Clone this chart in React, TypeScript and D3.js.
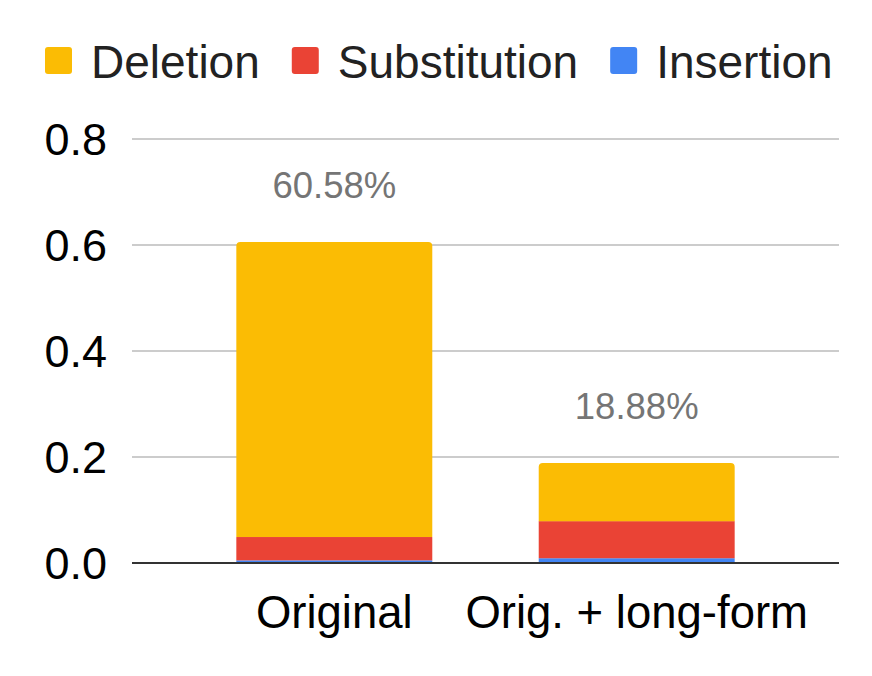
import { useEffect, useRef } from 'react';
import * as d3 from 'd3';

const categories = ["Original", "Orig. + long-form"];
const seriesNames = ["Deletion", "Substitution", "Insertion"];
const insertion = [0.005, 0.009];
const substitution = [0.044, 0.070];
const deletion = [0.5568, 0.1098];
const yTicks = [0, 0.2, 0.4, 0.6, 0.8];

const colors: Record<string, string> = {
  Deletion: "#fbbc04",
  Substitution: "#ea4335",
  Insertion: "#4285f4",
};

const App = () => {
  const ref = useRef<HTMLDivElement>(null);

  useEffect(() => {
    if (!ref.current) return;
    document.body.style.margin = "0";
    const width = 872, height = 676;
    const font = "'Liberation Sans', Arial, sans-serif";

    d3.select(ref.current).selectAll("svg").remove();
    const svg = d3.select(ref.current)
      .append("svg")
      .attr("width", width)
      .attr("height", height)
      .style("display", "block")
      .style("font-family", font);

    const rows = categories.map((c, i) => ({
      cat: c,
      Insertion: insertion[i],
      Substitution: substitution[i],
      Deletion: deletion[i],
    }));

    const x = d3.scaleBand<string>()
      .domain(categories)
      .range([132, 839])
      .paddingInner(0.352)
      .paddingOuter(0.345);

    const y = d3.scaleLinear().domain([0, 0.8]).range([563, 139]);

    // gridlines
    svg.append("g")
      .selectAll("line")
      .data(yTicks.filter(t => t > 0))
      .join("line")
      .attr("x1", 132).attr("x2", 839)
      .attr("y1", d => y(d)).attr("y2", d => y(d))
      .attr("stroke", "#cccccc")
      .attr("stroke-width", 2);

    // y tick labels
    svg.append("g")
      .selectAll("text")
      .data(yTicks)
      .join("text")
      .attr("x", 107)
      .attr("y", d => y(d))
      .attr("dy", "0.36em")
      .attr("text-anchor", "end")
      .attr("font-size", 45)
      .attr("fill", "#000")
      .text(d => d3.format(".1f")(d));

    // stacked bars: Insertion at bottom, then Substitution, then Deletion
    const stack = d3.stack<any>().keys(["Insertion", "Substitution", "Deletion"]);
    const series = stack(rows);
    const bw = x.bandwidth();
    const r = 4;

    series.forEach((s, si) => {
      const isTop = si === series.length - 1;
      const g = svg.append("g").attr("fill", colors[s.key]);
      s.forEach(d => {
        const x0 = x(d.data.cat)!;
        const yTop = y(d[1]);
        const yBot = y(d[0]);
        if (isTop) {
          const p = d3.path();
          p.moveTo(x0, yBot);
          p.lineTo(x0, yTop + r);
          p.arcTo(x0, yTop, x0 + r, yTop, r);
          p.lineTo(x0 + bw - r, yTop);
          p.arcTo(x0 + bw, yTop, x0 + bw, yTop + r, r);
          p.lineTo(x0 + bw, yBot);
          p.closePath();
          g.append("path").attr("d", p.toString());
        } else {
          g.append("rect")
            .attr("x", x0)
            .attr("y", yTop)
            .attr("width", bw)
            .attr("height", yBot - yTop);
        }
      });
    });

    // baseline
    svg.append("line")
      .attr("x1", 132).attr("x2", 839)
      .attr("y1", y(0)).attr("y2", y(0))
      .attr("stroke", "#333333")
      .attr("stroke-width", 2);

    // total labels
    svg.append("g")
      .selectAll("text")
      .data(rows)
      .join("text")
      .attr("x", d => x(d.cat)! + bw / 2)
      .attr("y", d => y(d.Insertion + d.Substitution + d.Deletion) - 44)
      .attr("text-anchor", "middle")
      .attr("font-size", 36.5)
      .attr("fill", "#757575")
      .text(d => d3.format(".2%")(d.Insertion + d.Substitution + d.Deletion));

    // category labels
    svg.append("g")
      .selectAll("text")
      .data(categories)
      .join("text")
      .attr("x", d => x(d)! + bw / 2)
      .attr("y", 628)
      .attr("text-anchor", "middle")
      .attr("font-size", 45.5)
      .attr("fill", "#000")
      .text(d => d);

    // legend
    const legend = svg.append("g");
    let lx = 45;
    seriesNames.forEach(name => {
      legend.append("rect")
        .attr("x", lx).attr("y", 47)
        .attr("width", 27).attr("height", 27)
        .attr("rx", 3)
        .attr("fill", colors[name]);
      const t = legend.append("text")
        .attr("x", lx + 46)
        .attr("y", 61)
        .attr("dy", "0.36em")
        .attr("font-size", 46)
        .attr("fill", "#222")
        .text(name);
      const w = (t.node() as SVGTextElement).getComputedTextLength();
      lx = lx + 46 + w + 32;
    });
  }, []);

  return <div ref={ref} />;
};

export default App;
